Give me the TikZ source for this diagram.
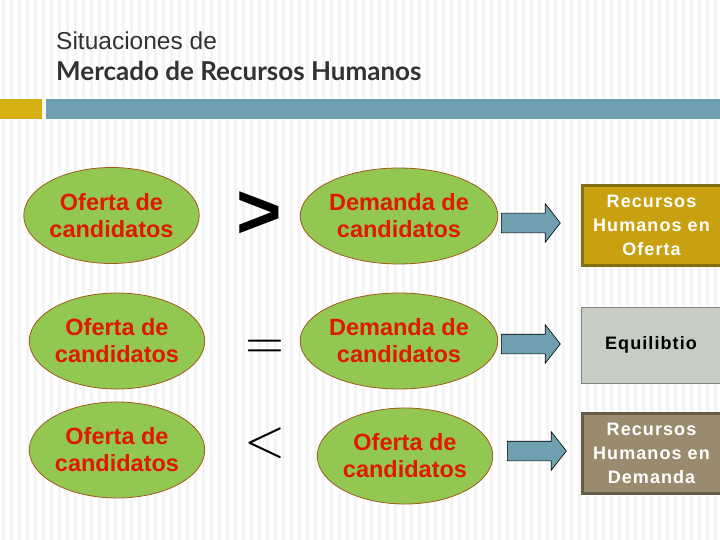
\documentclass[tikz,border=0pt]{standalone}
\usepackage{fontspec}
\setmainfont{Liberation Sans}
\newfontfamily\boxfont[LetterSpace=6]{Liberation Sans}
\newfontfamily\headfont{Lato}
\usetikzlibrary{shapes.geometric,shapes.arrows}
\definecolor{stripe}{RGB}{244,244,244}
\definecolor{ovalfill}{RGB}{146,200,82}
\definecolor{ovalline}{RGB}{160,90,30}
\definecolor{ovaltext}{RGB}{224,24,0}
\definecolor{arrowfill}{RGB}{111,160,175}
\definecolor{barblue}{RGB}{110,160,176}
\definecolor{baryellow}{RGB}{212,176,18}
\definecolor{offerfill}{RGB}{200,160,16}
\definecolor{offerline}{RGB}{130,112,20}
\definecolor{eqfill}{RGB}{200,205,196}
\definecolor{eqline}{RGB}{130,130,130}
\definecolor{demfill}{RGB}{155,139,110}
\definecolor{demline}{RGB}{100,92,72}
\definecolor{titlegray}{RGB}{50,50,50}
\begin{document}
\begin{tikzpicture}[x=1pt,y=-1pt,
  oval/.style={ellipse, draw=ovalline, line width=0.8pt, fill=ovalfill,
    minimum width=163pt, minimum height=96pt, inner sep=0pt, align=center,
    text=ovaltext, font=\bfseries\fontsize{23.5}{27}\selectfont},
  blockarrow/.style={single arrow, draw=black, line width=0.6pt, fill=arrowfill,
    minimum height=59pt, single arrow head extend=9.5pt,
    inner xsep=0pt, inner ysep=9.5pt, single arrow tip angle=104},
  resbox/.style={rectangle, minimum width=139pt, minimum height=80pt,
    inner sep=0pt, align=center,
    font=\boxfont\bfseries\fontsize{18}{24}\selectfont},
  relsym/.style={inner sep=0pt, text=black}]
\useasboundingbox (0,0) rectangle (720,540);
\fill[white] (0,0) rectangle (720,540);
\foreach \i in {0,...,90} \fill[stripe] (\i*8+2,0) rectangle ++(3,540);
% title
\node[anchor=base west, inner sep=0pt, text=titlegray, font=\fontsize{24.5}{24.5}\selectfont] (t1) at (56,50) {Situaciones de};
\node[anchor=base west, inner sep=0pt, text=titlegray, font=\headfont\bfseries\fontsize{26}{26}\selectfont] (t2) at (56,81) {Mercado de Recursos Humanos};
% bars
\fill[baryellow] (0,99) rectangle (42,119);
\fill[barblue] (46,99) rectangle (720,119);
% row 1
\node[oval] (o1) at (111.5,215.5) {Oferta de\\candidatos};
\node[relsym, font=\bfseries\fontsize{78}{78}\selectfont] (gt) at (259,215) {>};
\node[oval] (d1) at (399,216) {Demanda de\\candidatos};
\node[blockarrow] (a1) at (527,223) {};
\node[resbox, fill=offerfill, draw=offerline, line width=3pt, text=white] (r1) at (651.5,225.5) {Recursos\\Humanos en\\Oferta};
% row 2
\node[oval] (o2) at (117,341) {Oferta de\\candidatos};
\node[relsym] (eq) at (264.5,349) {\scalebox{5}{$=$}};
\node[oval] (d2) at (399,341) {Demanda de\\candidatos};
\node[blockarrow] (a2) at (527,344) {};
\node[resbox, fill=eqfill, draw=eqline, line width=1pt, minimum height=76pt, text=black] (r2) at (651,345) {Equilibtio};
% row 3
\node[oval] (o3) at (117,450) {Oferta de\\candidatos};
\node[relsym] (lt) at (265,443) {\scalebox{5.3}{$<$}};
\node[oval] (d3) at (405,456) {Oferta de\\candidatos};
\node[blockarrow] (a3) at (533,451) {};
\node[resbox, fill=demfill, draw=demline, line width=3pt, text=white] (r3) at (651.5,453) {Recursos\\Humanos en\\Demanda};
\end{tikzpicture}
\end{document}
